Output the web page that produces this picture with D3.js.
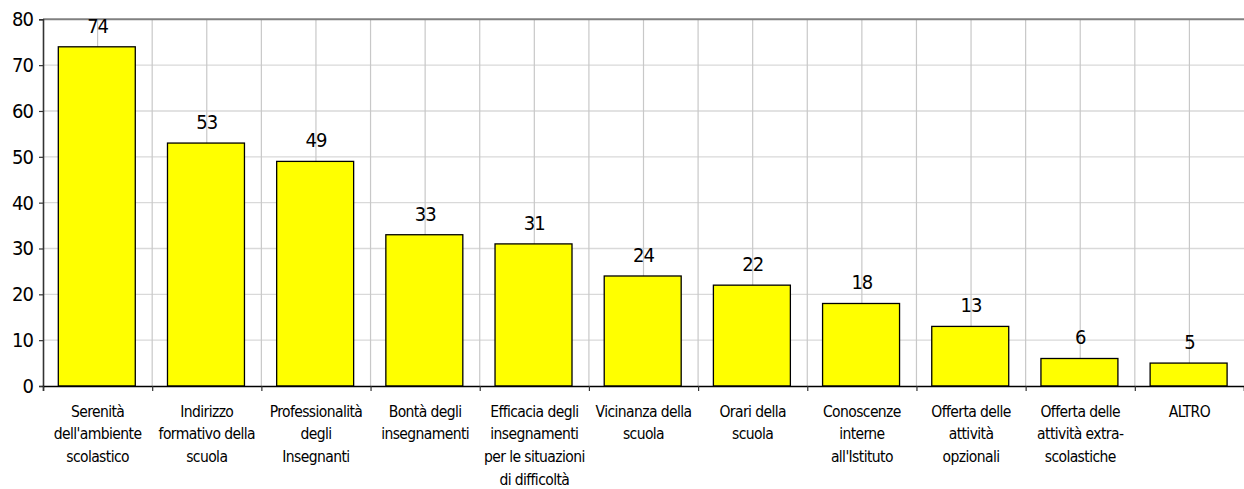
<!DOCTYPE html>
<html><head><meta charset="utf-8">
<script src="https://cdn.jsdelivr.net/npm/d3@7"></script>
<style>
html,body{margin:0;padding:0;background:#fff;}
svg{display:block;}
text{font-family:"DejaVu Sans Condensed","DejaVu Sans",sans-serif;font-stretch:condensed;fill:#000;}
</style></head>
<body>
<svg id="chart" width="1244" height="489"></svg>
<script>
const categories = [
  "Serenità\ndell'ambiente\nscolastico",
  "Indirizzo\nformativo della\nscuola",
  "Professionalità\ndegli\nInsegnanti",
  "Bontà degli\ninsegnamenti",
  "Efficacia degli\ninsegnamenti\nper le situazioni\ndi difficoltà",
  "Vicinanza della\nscuola",
  "Orari della\nscuola",
  "Conoscenze\ninterne\nall'Istituto",
  "Offerta delle\nattività\nopzionali",
  "Offerta delle\nattività extra-\nscolastiche",
  "ALTRO"
];
const values = [74, 53, 49, 33, 31, 24, 22, 18, 13, 6, 5];
const yTicks = [0, 10, 20, 30, 40, 50, 60, 70, 80];

const svg = d3.select("#chart");
const mLeft = 43, mRight = 1244, mTop = 19.3, mBottom = 386;

const x = d3.scaleBand().domain(d3.range(categories.length)).range([mLeft, mRight]).padding(0);
const y = d3.scaleLinear().domain([0, 80]).range([mBottom, mTop]);
const step = x.step();

// horizontal gridlines
svg.append("g").selectAll("line").data(yTicks.filter(d => d > 0 && d < 80)).join("line")
  .attr("x1", mLeft).attr("x2", mRight)
  .attr("y1", d => y(d)).attr("y2", d => y(d))
  .attr("stroke", "#d9d9d9").attr("stroke-width", 1.3);

// vertical gridlines at boundaries and centers
const halfPositions = [];
for (let i = 0; i < categories.length; i++) {
  halfPositions.push(x(i) + step / 2);
  if (i > 0) halfPositions.push(x(i));
}
svg.append("g").selectAll("line").data(halfPositions).join("line")
  .attr("x1", d => d).attr("x2", d => d)
  .attr("y1", mTop).attr("y2", mBottom)
  .attr("stroke", "#c8c8c8").attr("stroke-width", 1.2);

// top border
svg.append("line").attr("x1", mLeft).attr("x2", mRight).attr("y1", mTop).attr("y2", mTop)
  .attr("stroke", "#808080").attr("stroke-width", 2);

// bars
const bw = step * 0.705;
svg.append("g").selectAll("rect").data(values).join("rect")
  .attr("x", (d, i) => x(i) + step / 2 - bw / 2 - 0.8)
  .attr("y", d => y(d))
  .attr("width", bw)
  .attr("height", d => y(0) - y(d))
  .attr("fill", "#ffff00")
  .attr("stroke", "#000").attr("stroke-width", 1.3);

// value labels
svg.append("g").selectAll("text").data(values).join("text")
  .attr("x", (d, i) => x(i) + step / 2)
  .attr("y", d => y(d) - 14)
  .attr("text-anchor", "middle")
  .style("font-size", "20px").style("letter-spacing", "-1px")
  .text(d => d);

// y axis
const yAxis = d3.axisLeft(y).tickValues(yTicks).tickSize(4).tickPadding(6);
const gy = svg.append("g").attr("transform", `translate(${mLeft},0)`).call(yAxis);
gy.select(".domain").attr("stroke", "#333").attr("stroke-width", 1.6);
gy.selectAll(".tick line").attr("stroke", "#333").attr("stroke-width", 1.2);
gy.selectAll(".tick text").style("font-size", "20px").style("letter-spacing", "-1px")
  .attr("font-family", null).attr("fill", "#000");
gy.attr("font-family", null).attr("font-size", null);

// x axis
const xb = d3.scaleLinear().domain([0, categories.length]).range([mLeft, mRight]);
const xAxis = d3.axisBottom(xb).tickValues(d3.range(categories.length + 1)).tickSize(5).tickFormat("");
const gx = svg.append("g").attr("transform", `translate(0,${mBottom})`).call(xAxis);
gx.select(".domain").attr("stroke", "#000").attr("stroke-width", 1.5);
gx.selectAll(".tick line").attr("stroke", "#333").attr("stroke-width", 1.2);

// category labels
const lab = svg.append("g").selectAll("text").data(categories).join("text")
  .attr("x", (d, i) => x(i) + step / 2)
  .attr("y", 416.5)
  .attr("text-anchor", "middle")
  .style("font-size", "15.5px").style("letter-spacing", "-0.6px");
lab.each(function(d) {
  const t = d3.select(this);
  const cx = t.attr("x");
  d.split("\n").forEach((line, k) => {
    t.append("tspan").attr("x", cx).attr("dy", k === 0 ? 0 : 22.8).text(line);
  });
});
</script>
</body></html>
